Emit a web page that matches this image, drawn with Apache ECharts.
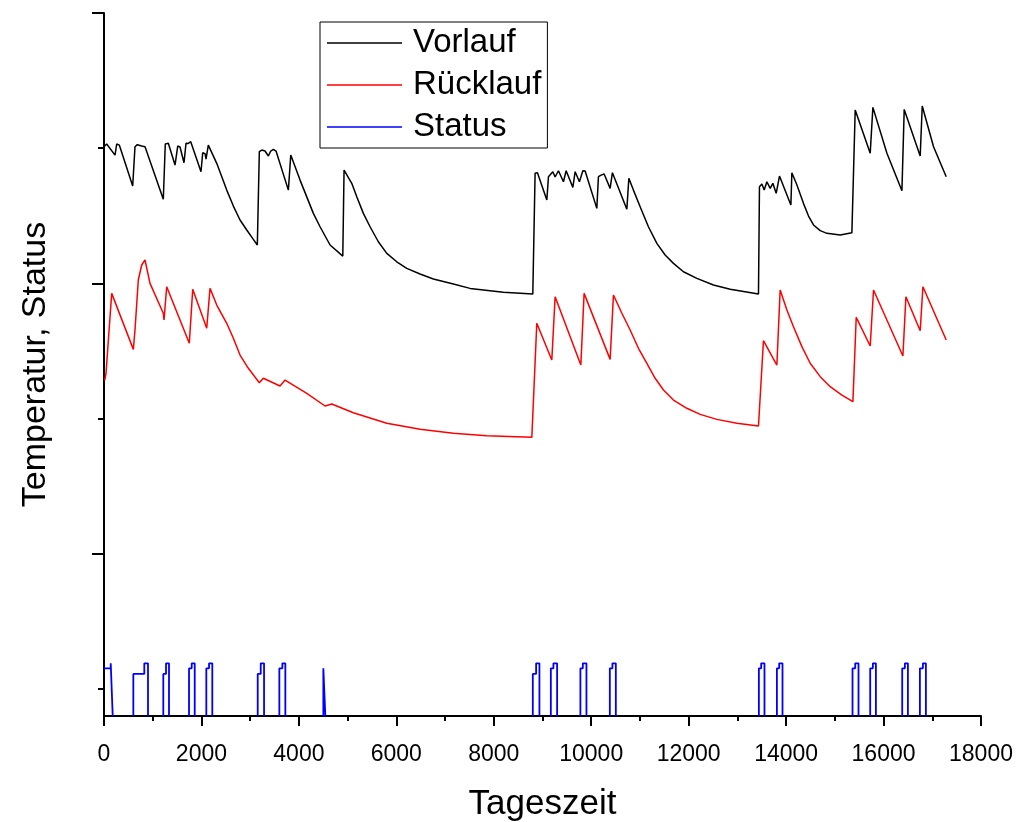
<!DOCTYPE html>
<html>
<head>
<meta charset="utf-8">
<script src="https://cdn.jsdelivr.net/npm/echarts@6/dist/echarts.min.js"></script>
<style>
html,body{margin:0;padding:0;background:#fff;}
#chart{width:1023px;height:822px;}
</style>
</head>
<body>
<div id="chart"></div>
<script>
// ---- data ----
const vorlauf = [
[0,50.11],[55,50.31],[226,49.49],[261,50.31],[314,50.23],[589,47.2],[636,50.11],[684,50.26],[774,50.16],[842,50.11],
[1217,46.22],[1258,50.31],[1320,50.36],[1458,48.75],[1513,50.16],[1560,50.09],[1642,48.92],[1683,50.36],[1731,50.35],[1780,50.48],
[1991,48.26],[2026,49.66],[2074,49.6],[2094,49.2],[2141,50.23],[2314,48.88],[2519,46.9],[2655,45.72],[2792,44.69],[2930,43.95],
[3065,43.26],[3147,42.84],[3188,49.74],
[3238,49.86],[3305,49.79],[3373,49.42],[3422,49.79],[3476,49.91],[3531,49.79],[3784,46.9],[3833,49.49],[4024,47.64],[4297,45.18],
[4434,44.19],[4640,42.84],[4901,42.02],[4927,48.38],[4968,48.33],[5085,47.4],[5188,46.41],[5323,45.18],[5461,44.19],[5631,43.08],
[5804,42.22],[6009,41.6],[6214,41.11],[6487,40.69],[6760,40.32],[7171,39.95],
[7514,39.63],[8197,39.34],[8801,39.21],[8848,48.14],[8896,48.19],[9089,46.17],[9122,47.89],[9212,48.26],[9259,47.87],[9327,48.33],
[9430,47.52],[9485,48.33],[9623,47.1],[9670,48.26],[9758,47.52],[9828,48.33],[9875,48.31],[10115,45.55],[10148,47.89],[10203,48.01],
[10265,48.09],[10388,47.03],[10435,48.19],[10731,45.48],[10772,47.77],[10866,46.9],[11004,45.67],[11174,44.19],[11347,42.96],[11517,42.1],
[11688,41.48],[11893,40.86],[12168,40.37],[12509,39.88],[12852,39.56],
[13433,39.21],[13453,47.15],[13503,47.35],[13550,46.9],[13605,47.52],[13673,47.03],[13728,47.4],[13796,46.66],[13864,47.94],[14098,45.8],
[14118,48.18],[14222,47.28],[14356,45.92],[14460,44.98],[14562,44.32],[14700,43.9],[14837,43.7],[15110,43.58],[15350,43.75],[15418,52.82],[15453,52.87],[15726,49.62],[15781,53.02],
[16069,49.62],[16377,46.85],[16424,52.87],[16752,49.42],[16794,53.12],[17026,50.11],[17286,47.89]
];
const ruecklauf = [
[14,32.8],[41,33.35],[158,39.26],[602,35.12],[636,36.55],[704,40.25],[774,41.36],[842,41.73],[944,40.0],[1217,37.79],[1232,37.29],[1287,39.75],
[1751,35.57],[1821,39.56],[2108,36.68],[2176,39.63],[2314,38.4],[2519,37.05],[2655,35.94],[2792,34.7],[2963,33.72],[3188,32.65],[3270,32.98],[3613,32.41],[3716,32.85],
[4162,31.87],[4537,30.93],[4675,31.08],[5118,30.43],[5804,29.65],[6487,29.21],[7171,28.91],[7857,28.73],[8781,28.61],[8883,37.05],
[9191,34.33],[9259,39.01],[9787,33.96],[9854,39.26],[10388,34.38],[10456,39.14],[10629,37.79],[10799,36.55],[10969,35.2],[11142,34.09],[11312,32.98],[11483,32.11],[11688,31.37],[11963,30.76],
[12236,30.31],[12579,29.94],[12990,29.65],[13433,29.45],[13535,35.76],[13810,33.96],[13878,39.51],[14016,38.03],[14151,36.79],[14324,35.32],[14494,34.09],[14700,33.1],[14905,32.36],[15145,31.74],[15371,31.25],[15439,37.49],
[15726,35.37],[15794,39.51],[16397,34.63],[16459,39.01],[16752,36.5],[16808,39.75],[17286,35.81]
];
// status pulses: switch-on time, time of step to full level, switch-off time, first level
const statusRise  = [0, 602, 1217, 1745, 2100, 3155, 3599, 4502, 8801, 9171, 9778, 10382, 13441, 13811, 15363, 15726, 16383, 16746];
const statusStep  = [138, 827, 1273, 1800, 2156, 3217, 3661, null, 8869, 9224, 9828, 10435, 13488, 13858, 15418, 15781, 16438, 16808];
const statusDrop  = [179, 903, 1334, 1862, 2223, 3285, 3722, 4543, 8937, 9300, 9902, 10505, 13556, 13926, 15486, 15843, 16500, 16869];
const statusFirst = [11.53, 11.11, 11.11, 11.53, 11.53, 11.11, 11.53, 11.53, 11.11, 11.53, 11.53, 11.53, 11.53, 11.53, 11.53, 11.53, 11.53, 11.53];
const statusOff = 8;
const statusFull = 11.9;
const seriesNames = ['Vorlauf', 'Rücklauf', 'Status'];
const majorY = [20, 40, 60];
const minorY = [10, 30, 50];

// ---- build status step line ----
const status = [];
for (let i = 0; i < statusRise.length; i++) {
  if (i > 0) status.push([statusRise[i], statusOff]);
  status.push([statusRise[i], statusFirst[i]]);
  if (statusStep[i] !== null) {
    status.push([statusStep[i], statusFirst[i]]);
    status.push([statusStep[i], statusFull]);
    status.push([statusDrop[i], statusFull]);
  } else {
    status.push([statusDrop[i], statusFirst[i]]);
  }
  status.push([statusDrop[i], statusOff]);
  status.push([statusDrop[i], null]);
}

const font = 'Liberation Sans, Arial, sans-serif';
const chart = echarts.init(document.getElementById('chart'), null, {renderer: 'canvas'});
chart.setOption({
  animation: false,
  backgroundColor: '#fff',
  grid: {left: 104, right: 42, top: 13, bottom: 106, containLabel: false, outerBoundsMode: 'none'},
  legend: {
    orient: 'vertical', left: 320, top: 22,
    data: seriesNames,
    icon: 'rect', itemWidth: 75, itemHeight: 1.5, itemGap: 6,
    padding: [3, 6, 3, 7],
    borderColor: '#000', borderWidth: 1, backgroundColor: '#fff',
    textStyle: {fontFamily: font, fontSize: 33, color: '#000', lineHeight: 36, padding: [0, 0, 0, 6]}
  },
  xAxis: {
    type: 'value', min: 0, max: 18000, interval: 2000,
    name: 'Tageszeit', nameLocation: 'middle', nameGap: 71,
    nameTextStyle: {fontFamily: font, fontSize: 35, color: '#000'},
    axisLine: {onZero: false, lineStyle: {color: '#000', width: 2}},
    axisTick: {show: true, inside: false, length: 10, lineStyle: {color: '#000', width: 2}},
    minorTick: {show: true, splitNumber: 2, length: 5, lineStyle: {color: '#000', width: 2}},
    axisLabel: {fontFamily: font, fontSize: 23, color: '#000', margin: 27, formatter: v => String(v)},
    splitLine: {show: false}, minorSplitLine: {show: false}
  },
  yAxis: [{
    type: 'value', min: 8, max: 60,
    name: 'Temperatur, Status', nameLocation: 'middle', nameGap: 51,
    nameTextStyle: {fontFamily: font, fontSize: 34, color: '#000'},
    axisLine: {onZero: false, lineStyle: {color: '#000', width: 2}},
    axisTick: {show: true, customValues: majorY, length: 12, lineStyle: {color: '#000', width: 2}},
    axisLabel: {show: false, customValues: majorY},
    splitLine: {show: false}
  }, {
    type: 'value', min: 8, max: 60, position: 'left', offset: 0,
    axisLine: {show: false},
    axisTick: {show: true, customValues: minorY, length: 6, lineStyle: {color: '#000', width: 2}},
    axisLabel: {show: false, customValues: minorY},
    splitLine: {show: false}
  }],
  series: [
    {name: seriesNames[0], type: 'line', data: vorlauf, showSymbol: false, symbol: 'none',
     lineStyle: {color: '#000', width: 1.5}, itemStyle: {color: '#000'}},
    {name: seriesNames[1], type: 'line', data: ruecklauf, showSymbol: false, symbol: 'none',
     lineStyle: {color: '#ff0000', width: 1.5}, itemStyle: {color: '#ff0000'}},
    {name: seriesNames[2], type: 'line', data: status, showSymbol: false, symbol: 'none', connectNulls: false,
     lineStyle: {color: '#0000ff', width: 1.8}, itemStyle: {color: '#0000ff'}}
  ]
});
</script>
</body>
</html>
